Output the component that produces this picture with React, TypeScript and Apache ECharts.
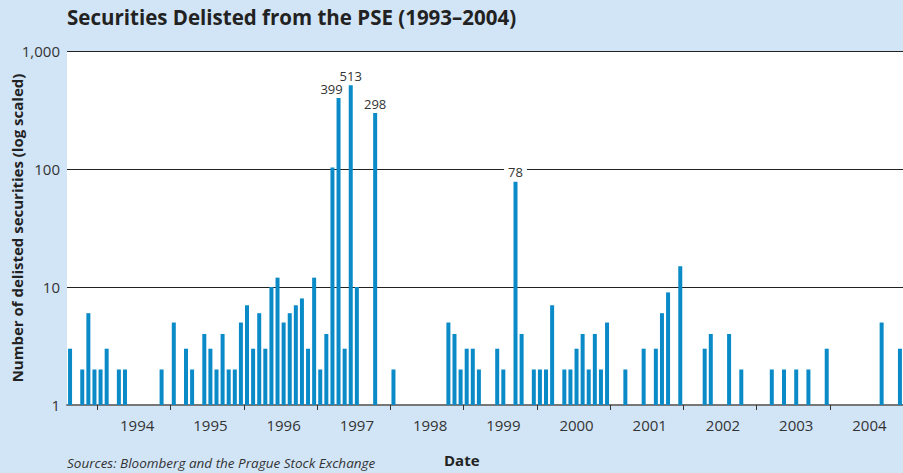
import React, { useEffect, useRef } from "react";
import * as echarts from "echarts";

// Monthly delistings, Aug 1993 – Dec 2004 (null = none)
const firstYear = 1993;
const firstMonth = 8;
const values1993: (number | null)[] = [3, null, 2, 6, 2]; // Aug–Dec
const values1994: (number | null)[] = [2, 3, null, 2, 2, null, null, null, null, null, 2, null];
const values1995: (number | null)[] = [5, null, 3, 2, null, 4, 3, 2, 4, 2, 2, 5];
const values1996: (number | null)[] = [7, 3, 6, 3, 10, 12, 5, 6, 7, 8, 3, 12];
const values1997: (number | null)[] = [2, 4, 103, 399, 3, 513, 10, null, null, 298, null, null];
const values1998: (number | null)[] = [2, null, null, null, null, null, null, null, null, 5, 4, 2];
const values1999: (number | null)[] = [3, 3, 2, null, null, 3, 2, null, 78, 4, null, 2];
const values2000: (number | null)[] = [2, 2, 7, null, 2, 2, 3, 4, 2, 4, 2, 5];
const values2001: (number | null)[] = [null, null, 2, null, null, 3, null, 3, 6, 9, null, 15];
const values2002: (number | null)[] = [null, null, null, 3, 4, null, null, 4, null, 2, null, null];
const values2003: (number | null)[] = [null, null, 2, null, 2, null, 2, null, 2, null, null, 3];
const values2004: (number | null)[] = [null, null, null, null, null, null, null, null, 5, null, null, 3];

const labelledValues = [399, 513, 298, 78];
const yTicks = [1, 10, 100, 1000];

const allValues = [
  ...values1993, ...values1994, ...values1995, ...values1996, ...values1997, ...values1998,
  ...values1999, ...values2000, ...values2001, ...values2002, ...values2003, ...values2004,
];

const categories: string[] = allValues.map((_, i) => {
  const m0 = firstMonth - 1 + i;
  const y = firstYear + Math.floor(m0 / 12);
  const m = (m0 % 12) + 1;
  return `${y}-${m < 10 ? "0" + m : m}`;
});

const FONT = "'Open Sans', 'Noto Sans', sans-serif";
const BAR = "#0a8bc8";
const BG = "#d2e5f7";

export default function App() {
  const ref = useRef<HTMLDivElement>(null);
  useEffect(() => {
    if (!ref.current) return;
    const chart = echarts.init(ref.current, undefined, { renderer: "svg" });
    const data = allValues.map((v) => {
      if (v == null) return null;
      if (labelledValues.includes(v)) {
        const isLeft = v === 399;
        return {
          value: v,
          label: {
            show: true,
            position: "top",
            distance: 3,
            offset: isLeft ? [-7, 0] : [0, 0],
            formatter: "{c}",
            fontFamily: FONT,
            fontSize: 13,
            color: "#333",
            backgroundColor: v === 78 ? "#fff" : "transparent",
            padding: v === 78 ? [0, 4] : 0,
          },
        };
      }
      return v;
    });
    chart.setOption({
      animation: false,
      backgroundColor: BG,
      grid: {
        left: 67,
        right: 0,
        top: 51,
        bottom: 68,
        show: true,
        backgroundColor: "#fff",
        borderWidth: 0,
        containLabel: false,
        outerBoundsMode: "none",
      },
      xAxis: {
        type: "category",
        data: categories,
        boundaryGap: true,
        axisLine: { show: true, lineStyle: { color: "#777", width: 2 } },
        axisTick: {
          show: true,
          inside: false,
          length: 5,
          interval: (index: number, value: string) => value.endsWith("-01"),
          lineStyle: { color: "#333", width: 1 },
        },
        axisLabel: {
          interval: (index: number, value: string) => value.endsWith("-07"),
          formatter: (value: string) => value.slice(0, 4),
          fontFamily: FONT,
          fontSize: 15,
          color: "#333",
          margin: 12,
        },
        splitLine: { show: false },
      },
      yAxis: {
        type: "log",
        logBase: 10,
        min: yTicks[0],
        max: yTicks[yTicks.length - 1],
        name: "Number of delisted securities (log scaled)",
        nameLocation: "middle",
        nameRotate: 90,
        nameGap: 43,
        nameMoveOverlap: false,
        nameTextStyle: { fontFamily: FONT, fontSize: 15, fontWeight: "bold", color: "#222" },
        axisLine: { show: false },
        axisTick: { show: false },
        axisLabel: {
          formatter: (v: number) => v.toLocaleString("en-US"),
          fontFamily: FONT,
          fontSize: 15,
          color: "#333",
          margin: 7,
        },
        splitLine: { show: true, lineStyle: { color: "#222", width: 1.2 } },
      },
      series: [
        {
          type: "bar",
          data,
          barWidth: 4,
          itemStyle: { color: BAR },
          z: 3,
        },
      ],
      graphic: [
        {
          type: "text",
          left: 67,
          top: 6,
          style: {
            text: "Securities Delisted from the PSE (1993–2004)",
            fontFamily: FONT,
            fontSize: 20.5,
            fontWeight: "bold",
            fill: "#222",
          },
        },
        {
          type: "text",
          left: 67,
          top: 456,
          style: {
            text: "Sources: Bloomberg and the Prague Stock Exchange",
            fontFamily: FONT,
            fontSize: 13.5,
            fontStyle: "italic",
            fill: "#333",
          },
        },
        {
          type: "text",
          left: 444,
          top: 452,
          style: {
            text: "Date",
            fontFamily: FONT,
            fontSize: 15,
            fontWeight: "bold",
            fill: "#222",
          },
        },
      ],
    });
    return () => chart.dispose();
  }, []);
  return (
    <div
      ref={ref}
      style={{ position: "fixed", left: 0, top: 0, width: 903, height: 473 }}
    />
  );
}
